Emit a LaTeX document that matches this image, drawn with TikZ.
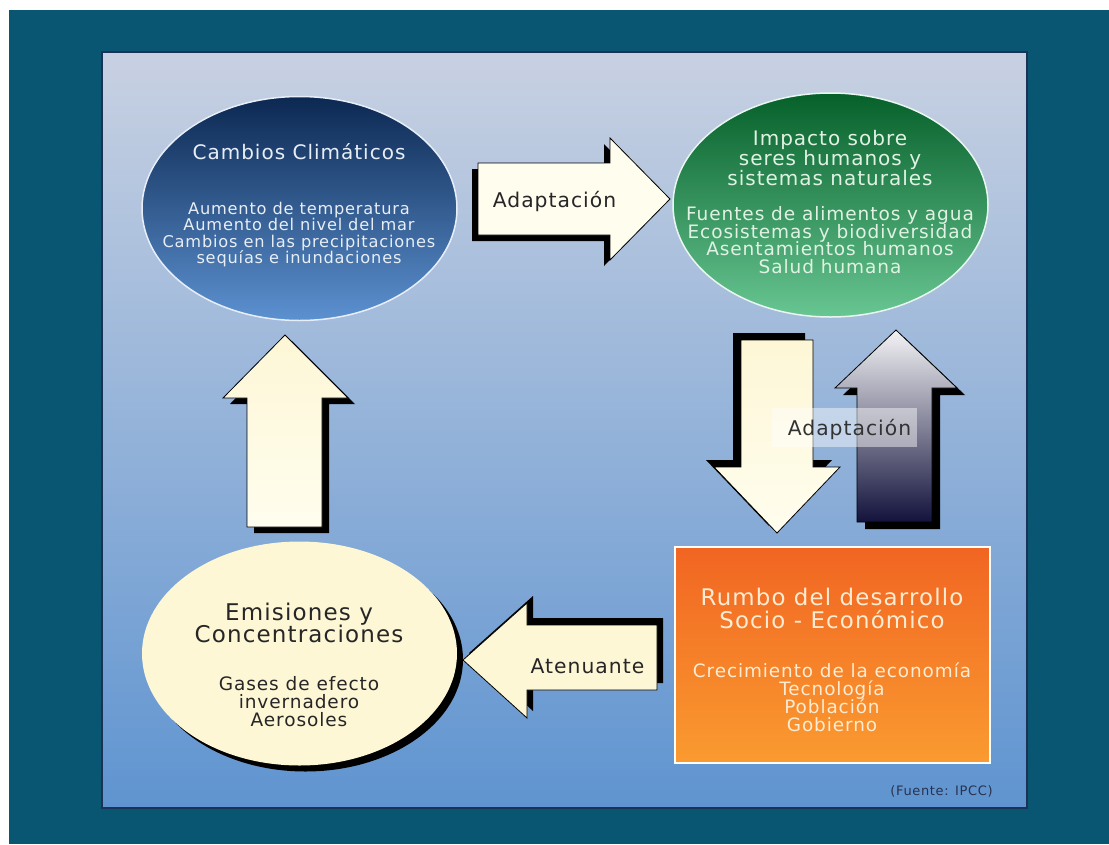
\documentclass[tikz,border=0pt]{standalone}
\usepackage{fontspec}
\setmainfont{DejaVu Sans}[LetterSpace=5.0]
\usepackage{tikz}
\usetikzlibrary{shapes.geometric,shadows}
\lineskiplimit=-100pt

\definecolor{marco}{RGB}{9,86,115}
\definecolor{paneltop}{RGB}{200,209,226}
\definecolor{panelbot}{RGB}{95,148,208}
\definecolor{panelborde}{RGB}{25,50,85}
\definecolor{cambiostop}{RGB}{12,40,82}
\definecolor{cambiosbot}{RGB}{92,145,208}
\definecolor{impactotop}{RGB}{6,96,42}
\definecolor{impactobot}{RGB}{104,198,146}
\definecolor{crema}{RGB}{253,247,214}
\definecolor{cremaclara}{RGB}{255,253,238}
\definecolor{rumbotop}{RGB}{241,101,34}
\definecolor{rumbobot}{RGB}{250,155,48}
\definecolor{textoazul}{RGB}{232,238,245}
\definecolor{textoverde}{RGB}{225,242,228}
\definecolor{textonaranja}{RGB}{253,235,210}
\definecolor{textofuente}{RGB}{40,50,80}
\definecolor{navyflecha}{RGB}{18,18,60}

\tikzset{
  bloque/.style={ellipse, minimum width=315pt, minimum height=224pt, inner sep=0pt},
  flecha/.style={draw=black, line width=0.8pt, line join=miter},
  texto/.style={inner sep=0pt, align=center},
  sombra/.style 2 args={drop shadow={shadow xshift=#1, shadow yshift=#2, opacity=1, fill=black}},
}

\begin{document}
\begin{tikzpicture}[x=1pt,y=-1pt]
\useasboundingbox (0,0) rectangle (1109,844);
\fill[white] (0,0) rectangle (1109,844);
\fill[marco] (9,10) rectangle (1109,844);
\draw[panelborde, line width=1.5pt, top color=paneltop, bottom color=panelbot] (102,52) rectangle (1027,808);

\node[bloque, draw=white!85!cambiosbot, line width=1.5pt, top color=cambiostop, bottom color=cambiosbot] (cambios) at (299.5,208.5) {};
\node[bloque, draw=white!85!impactobot, line width=1.5pt, top color=impactotop, bottom color=impactobot] (impacto) at (830.5,205) {};
\node[bloque, fill=crema, sombra={6pt}{-6pt}] (emisiones) at (299.5,653.5) {};
\node[draw=white, line width=2pt, top color=rumbotop, bottom color=rumbobot, minimum width=315pt, minimum height=216pt, inner sep=0pt] (rumbo) at (832.5,655) {};

\draw[flecha, fill=cremaclara, sombra={-6pt}{-6pt}] (478,163) -- (610,163) -- (610,138) -- (670,199) -- (610,260) -- (610,235) -- (478,235) -- cycle;
\draw[flecha, fill=crema, sombra={6pt}{7pt}] (657,625) -- (527,625) -- (527,603) -- (463,660) -- (527,718) -- (527,690) -- (657,690) -- cycle;
\draw[flecha, top color=crema, bottom color=cremaclara, sombra={7pt}{-6pt}] (247,527) -- (247,398) -- (223,398) -- (285,335) -- (348,398) -- (322,398) -- (322,527) -- cycle;
\draw[flecha, top color=crema, bottom color=cremaclara, sombra={-8pt}{7pt}] (741,340) -- (813,340) -- (813,467) -- (840,467) -- (777,533) -- (714,467) -- (741,467) -- cycle;
\draw[flecha, top color=white!95!navyflecha, middle color=white!70!navyflecha, bottom color=navyflecha, sombra={8pt}{-7pt}] (857,522) -- (857,388) -- (835,388) -- (896,330) -- (957,388) -- (932,388) -- (932,522) -- cycle;
\fill[white, opacity=0.45] (772,408) rectangle (917,447);

\node[texto, text=textoazul, font=\fontsize{20}{20}\selectfont] (tcambios) at (299,152) {Cambios Climáticos};
\node[texto, text=textoazul, font=\fontsize{16.2}{16.3}\selectfont] (lcambios) at (299,234.5) {Aumento de temperatura\\Aumento del nivel del mar\\Cambios en las precipitaciones\\sequías e inundaciones};
\node[texto, text=textoverde, font=\fontsize{20}{20}\selectfont] (timpacto) at (830,158) {Impacto sobre\\seres humanos y\\sistemas naturales};
\node[texto, text=textoverde, font=\fontsize{18.5}{17.7}\selectfont] (limpacto) at (830,240) {Fuentes de alimentos y agua\\Ecosistemas y biodiversidad\\Asentamientos humanos\\Salud humana};
\node[texto, text=black!85, font=\fontsize{23}{22}\selectfont] (temisiones) at (299,623) {Emisiones y\\Concentraciones};
\node[texto, text=black!85, font=\fontsize{18.5}{18}\selectfont] (lemisiones) at (299,702) {Gases de efecto\\invernadero\\Aerosoles};
\node[texto, text=textonaranja, font=\fontsize{22.9}{23}\selectfont] (trumbo) at (832,608) {Rumbo del desarrollo\\Socio - Económico};
\node[texto, text=textonaranja, font=\fontsize{18.4}{18}\selectfont] (lrumbo) at (832,697) {Crecimiento de la economía\\Tecnología\\Población\\Gobierno};

\node[texto, text=black!85, font=\fontsize{20.3}{20}\selectfont] (adaptacion) at (554.5,201) {Adaptación};
\node[texto, text=black!80, font=\fontsize{20.3}{20}\selectfont] (adaptacion2) at (849.5,429) {Adaptación};
\node[texto, text=black!85, font=\fontsize{20.3}{20}\selectfont] (atenuante) at (587.5,666) {Atenuante};
\node[texto, text=textofuente, font=\fontsize{13}{13}\selectfont] (fuente) at (941.5,791) {(Fuente: IPCC)};
\end{tikzpicture}
\end{document}
